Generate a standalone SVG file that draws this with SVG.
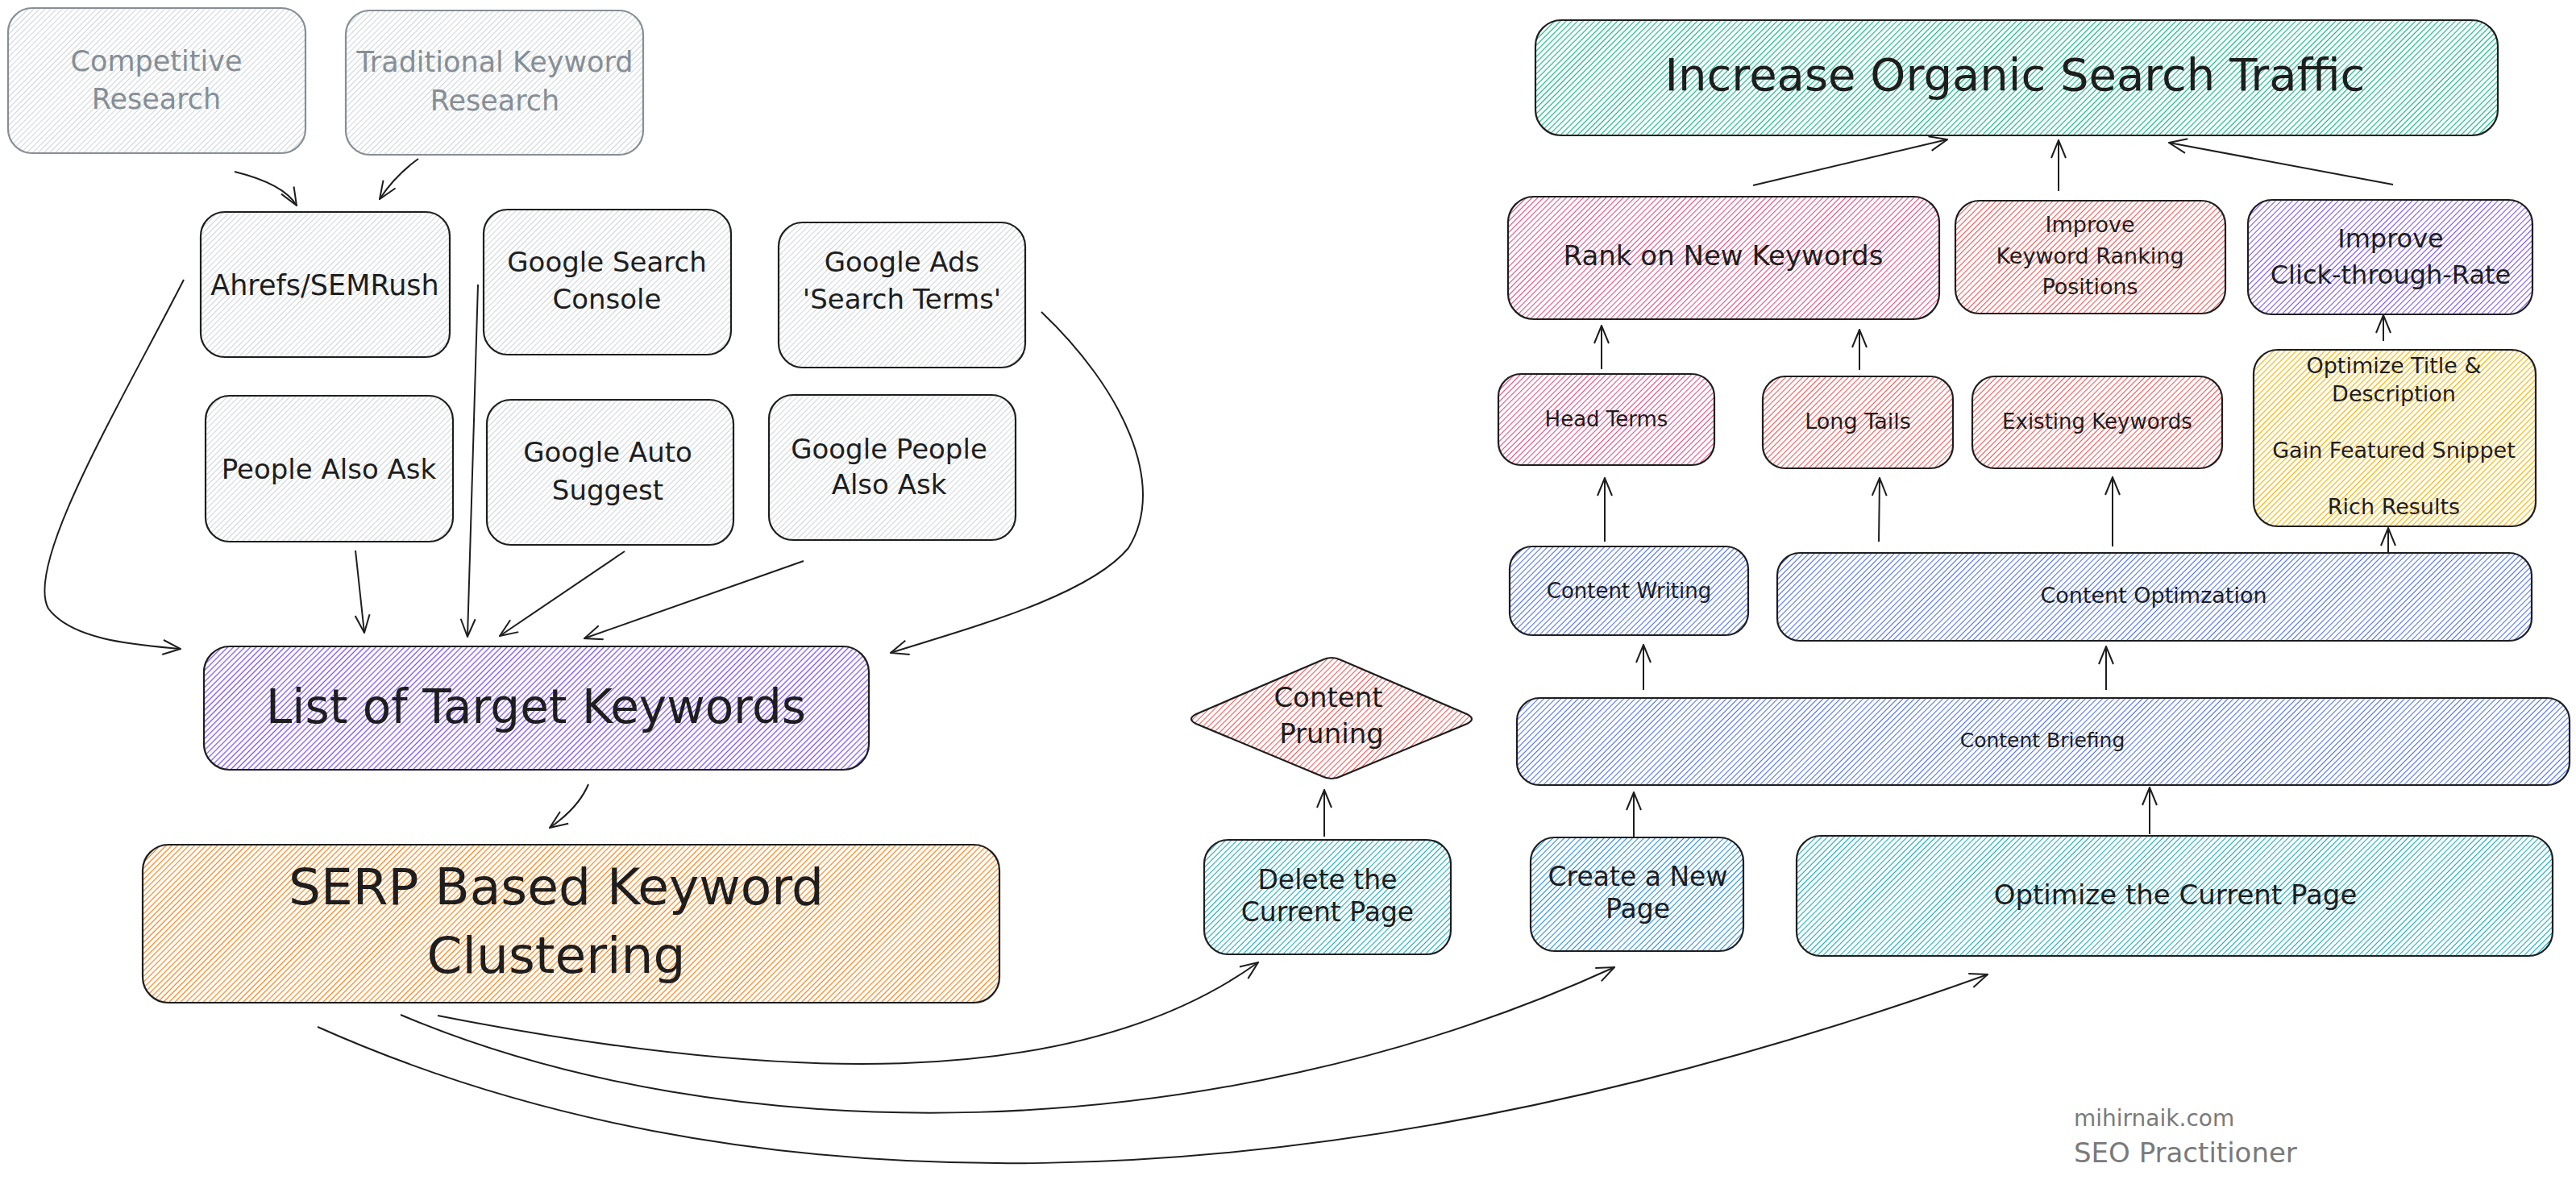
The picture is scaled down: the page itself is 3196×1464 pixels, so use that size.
<svg xmlns="http://www.w3.org/2000/svg" width="3196" height="1464" viewBox="0 0 3196 1464">
<defs>
<style>
.box{stroke:#1e1e1e;stroke-width:2.2}
.gbox{stroke:#868e96;stroke-width:2.2}
.t{font-family:"DejaVu Sans","Liberation Sans",sans-serif;fill:#1e1e1e;text-anchor:middle}
.g{fill:#868e96}
.wm{font-family:"DejaVu Sans","Liberation Sans",sans-serif;fill:#7a7a7a}
.c{fill:none;stroke:#1e1e1e;stroke-width:2;marker-end:url(#ah)}
</style>
<marker id="ah" viewBox="0 0 24 20" refX="23" refY="10" markerWidth="24" markerHeight="20" markerUnits="userSpaceOnUse" orient="auto">
<path d="M1,1 L23,10 L1,19" fill="none" stroke="#1e1e1e" stroke-width="2"/>
</marker>
<pattern id="hGray" patternUnits="userSpaceOnUse" width="5" height="10" patternTransform="rotate(45)"><line x1="2.5" y1="0" x2="2.5" y2="10" stroke="#ced4da" stroke-width="1"/></pattern>
<pattern id="hViolet" patternUnits="userSpaceOnUse" width="5" height="10" patternTransform="rotate(45)"><line x1="2.5" y1="0" x2="2.5" y2="10" stroke="#7950f2" stroke-width="1.3"/></pattern>
<pattern id="hOrange" patternUnits="userSpaceOnUse" width="5" height="10" patternTransform="rotate(45)"><line x1="2.5" y1="0" x2="2.5" y2="10" stroke="#fd7e14" stroke-width="1.2"/></pattern>
<pattern id="hTeal" patternUnits="userSpaceOnUse" width="5" height="10" patternTransform="rotate(45)"><line x1="2.5" y1="0" x2="2.5" y2="10" stroke="#12b886" stroke-width="1.2"/></pattern>
<pattern id="hPink" patternUnits="userSpaceOnUse" width="5" height="10" patternTransform="rotate(45)"><line x1="2.5" y1="0" x2="2.5" y2="10" stroke="#e64980" stroke-width="1.1"/></pattern>
<pattern id="hRed" patternUnits="userSpaceOnUse" width="5" height="10" patternTransform="rotate(45)"><line x1="2.5" y1="0" x2="2.5" y2="10" stroke="#fa5252" stroke-width="1.1"/></pattern>
<pattern id="hYellow" patternUnits="userSpaceOnUse" width="5" height="10" patternTransform="rotate(45)"><line x1="2.5" y1="0" x2="2.5" y2="10" stroke="#fab005" stroke-width="1.2"/></pattern>
<pattern id="hIndigo" patternUnits="userSpaceOnUse" width="5" height="10" patternTransform="rotate(45)"><line x1="2.5" y1="0" x2="2.5" y2="10" stroke="#4c6ef5" stroke-width="1.1"/></pattern>
<pattern id="hBlue" patternUnits="userSpaceOnUse" width="5" height="10" patternTransform="rotate(45)"><line x1="2.5" y1="0" x2="2.5" y2="10" stroke="#228be6" stroke-width="1.1"/></pattern>
<pattern id="hCyan" patternUnits="userSpaceOnUse" width="5" height="10" patternTransform="rotate(45)"><line x1="2.5" y1="0" x2="2.5" y2="10" stroke="#15aabf" stroke-width="1.1"/></pattern>
<pattern id="hViolet2" patternUnits="userSpaceOnUse" width="5" height="10" patternTransform="rotate(45)"><line x1="2.5" y1="0" x2="2.5" y2="10" stroke="#7950f2" stroke-width="1.1"/></pattern>
</defs>
<rect width="3196" height="1464" fill="#ffffff"/>

<g id="competitive-research">
<rect class="gbox" x="10" y="10" width="369" height="180" rx="30" fill="url(#hGray)"/>
<text class="t g" font-size="35"><tspan x="194" y="88">Competitive</tspan><tspan x="194" y="135">Research</tspan></text>
</g>
<g id="traditional-keyword-research">
<rect class="gbox" x="429" y="13" width="369" height="179" rx="30" fill="url(#hGray)"/>
<text class="t g" font-size="35"><tspan x="614" y="89">Traditional Keyword</tspan><tspan x="614" y="137">Research</tspan></text>
</g>
<g id="ahrefs">
<rect class="box" x="249" y="263" width="309" height="180" rx="30" fill="url(#hGray)"/>
<text class="t" font-size="35" x="403" y="366">Ahrefs/SEMRush</text>
</g>
<g id="gsc">
<rect class="box" x="600" y="260" width="307" height="180" rx="30" fill="url(#hGray)"/>
<text class="t" font-size="34"><tspan x="753" y="337">Google Search</tspan><tspan x="753" y="383">Console</tspan></text>
</g>
<g id="google-ads">
<rect class="box" x="966" y="276" width="306" height="180" rx="30" fill="url(#hGray)"/>
<text class="t" font-size="34"><tspan x="1119" y="337">Google Ads</tspan><tspan x="1119" y="383">'Search Terms'</tspan></text>
</g>
<g id="people-also-ask">
<rect class="box" x="255" y="491" width="307" height="181" rx="30" fill="url(#hGray)"/>
<text class="t" font-size="34" x="408" y="594">People Also Ask</text>
</g>
<g id="google-auto-suggest">
<rect class="box" x="604" y="496" width="306" height="180" rx="30" fill="url(#hGray)"/>
<text class="t" font-size="34"><tspan x="754" y="573">Google Auto</tspan><tspan x="754" y="620">Suggest</tspan></text>
</g>
<g id="google-people-also-ask">
<rect class="box" x="954" y="490" width="306" height="180" rx="30" fill="url(#hGray)"/>
<text class="t" font-size="34"><tspan x="1103" y="569">Google People</tspan><tspan x="1103" y="613">Also Ask</tspan></text>
</g>
<g id="list-of-target-keywords">
<rect class="box" x="253" y="802" width="825" height="153" rx="32" fill="url(#hViolet)"/>
<text class="t" font-size="58" x="665" y="897">List of Target Keywords</text>
</g>
<g id="serp-clustering">
<rect class="box" x="177" y="1048" width="1063" height="196" rx="32" fill="url(#hOrange)"/>
<text class="t" font-size="63"><tspan x="690" y="1122">SERP Based Keyword</tspan><tspan x="690" y="1207">Clustering</tspan></text>
</g>

<g id="increase-organic">
<rect class="box" x="1905" y="25" width="1194" height="143" rx="32" fill="url(#hTeal)"/>
<text class="t" font-size="56" x="2500" y="112">Increase Organic Search Traffic</text>
</g>
<g id="rank-new">
<rect class="box" x="1871" y="244" width="535" height="152" rx="32" fill="url(#hPink)"/>
<text class="t" font-size="34" x="2138" y="329">Rank on New Keywords</text>
</g>
<g id="improve-ranking">
<rect class="box" x="2426" y="249" width="335" height="140" rx="30" fill="url(#hRed)"/>
<text class="t" font-size="27"><tspan x="2593" y="288">Improve</tspan><tspan x="2593" y="327">Keyword Ranking</tspan><tspan x="2593" y="365">Positions</tspan></text>
</g>
<g id="improve-ctr">
<rect class="box" x="2789" y="248" width="353" height="142" rx="30" fill="url(#hViolet2)"/>
<text class="t" font-size="32"><tspan x="2966" y="307">Improve</tspan><tspan x="2966" y="352">Click-through-Rate</tspan></text>
</g>
<g id="head-terms">
<rect class="box" x="1859" y="464" width="268" height="113" rx="28" fill="url(#hPink)"/>
<text class="t" font-size="26" x="1993" y="529">Head Terms</text>
</g>
<g id="long-tails">
<rect class="box" x="2187" y="467" width="236" height="114" rx="28" fill="url(#hRed)"/>
<text class="t" font-size="27" x="2305" y="532">Long Tails</text>
</g>
<g id="existing-keywords">
<rect class="box" x="2447" y="467" width="310" height="114" rx="28" fill="url(#hRed)"/>
<text class="t" font-size="26" x="2602" y="532">Existing Keywords</text>
</g>
<g id="ctr-tactics">
<rect class="box" x="2796" y="434" width="350" height="219" rx="30" fill="url(#hYellow)"/>
<text class="t" font-size="27"><tspan x="2970" y="463">Optimize Title &amp;</tspan><tspan x="2970" y="498">Description</tspan><tspan x="2970" y="568">Gain Featured Snippet</tspan><tspan x="2970" y="638">Rich Results</tspan></text>
</g>
<g id="content-writing">
<rect class="box" x="1873" y="678" width="296" height="110" rx="28" fill="url(#hIndigo)"/>
<text class="t" font-size="26" x="2021" y="742">Content Writing</text>
</g>
<g id="content-optimization">
<rect class="box" x="2205" y="686" width="936" height="109" rx="28" fill="url(#hIndigo)"/>
<text class="t" font-size="27" x="2672" y="748">Content Optimzation</text>
</g>
<g id="content-briefing">
<rect class="box" x="1882" y="866" width="1306" height="108" rx="28" fill="url(#hIndigo)"/>
<text class="t" font-size="25" x="2534" y="927">Content Briefing</text>
</g>
<g id="content-pruning">
<path class="box" d="M1640,819 Q1652,813 1664,819 L1820,886 Q1832,892 1820,898 L1664,963 Q1652,969 1640,963 L1484,898 Q1472,892 1484,886 Z" fill="url(#hRed)"/>
<text class="t" font-size="34"><tspan x="1648" y="877">Content</tspan><tspan x="1652" y="922">Pruning</tspan></text>
</g>
<g id="delete-page">
<rect class="box" x="1494" y="1042" width="306" height="142" rx="30" fill="url(#hCyan)"/>
<text class="t" font-size="33"><tspan x="1647" y="1103">Delete the</tspan><tspan x="1647" y="1143">Current Page</tspan></text>
</g>
<g id="create-page">
<rect class="box" x="1899" y="1039" width="264" height="141" rx="30" fill="url(#hBlue)"/>
<text class="t" font-size="33"><tspan x="2032" y="1099">Create a New</tspan><tspan x="2032" y="1139">Page</tspan></text>
</g>
<g id="optimize-page">
<rect class="box" x="2229" y="1037" width="938" height="149" rx="30" fill="url(#hCyan)"/>
<text class="t" font-size="34" x="2699" y="1122">Optimize the Current Page</text>
</g>

<g id="connectors">
<path class="c" d="M291,213 Q352,228 368,255"/>
<path class="c" d="M519,197 Q490,218 471,247"/>
<path class="c" d="M228,347 C150,500 30,700 60,755 C90,795 170,800 224,805"/>
<path class="c" d="M593,353 L580,790"/>
<path class="c" d="M441,683 L452,785"/>
<path class="c" d="M775,684 L620,789"/>
<path class="c" d="M997,696 L725,792"/>
<path class="c" d="M1292,387 C1390,480 1450,600 1400,680 C1350,740 1200,780 1105,810"/>
<path class="c" d="M730,973 Q718,1002 682,1027"/>
<path class="c" d="M543,1260 C950,1340 1330,1360 1561,1194"/>
<path class="c" d="M497,1259 C900,1430 1500,1430 2003,1200"/>
<path class="c" d="M394,1274 C900,1500 1600,1520 2466,1209"/>
<path class="c" d="M2175,230 L2416,173"/>
<path class="c" d="M2554,237 L2554,174"/>
<path class="c" d="M2969,229 L2691,177"/>
<path class="c" d="M1987,458 L1987,404"/>
<path class="c" d="M2307,459 L2307,409"/>
<path class="c" d="M2957,423 L2957,391"/>
<path class="c" d="M1991,672 L1991,593"/>
<path class="c" d="M2331,672 L2332,593"/>
<path class="c" d="M2621,678 L2621,592"/>
<path class="c" d="M2963,685 L2963,655"/>
<path class="c" d="M2039,856 L2039,800"/>
<path class="c" d="M2613,856 L2613,802"/>
<path class="c" d="M1643,1038 L1643,980"/>
<path class="c" d="M2027,1039 L2027,983"/>
<path class="c" d="M2667,1035 L2667,977"/>
</g>

<g id="watermark">
<text class="wm" font-size="28" x="2573" y="1397">mihirnaik.com</text>
<text class="wm" font-size="34" x="2573" y="1442">SEO Practitioner</text>
</g>
</svg>
